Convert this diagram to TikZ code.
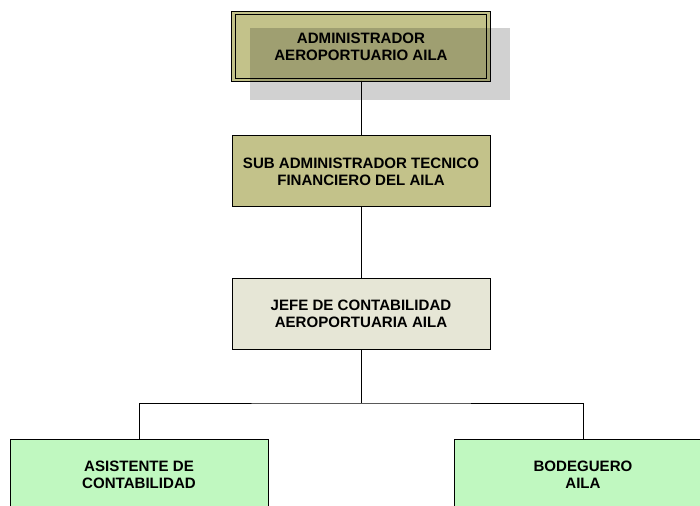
\documentclass[tikz,border=0pt]{standalone}
\usepackage{fontspec}
\setmainfont{Liberation Sans}
\usepackage{xcolor}
\definecolor{olivebox}{RGB}{195,194,138}
\definecolor{palebox}{RGB}{230,230,214}
\definecolor{greenbox}{RGB}{192,248,192}

\begin{document}
\begin{tikzpicture}[x=0.75pt, y=-0.75pt,
                    puesto/.style={draw=black, line width=0.75pt, align=center,
                      minimum width=193.5pt, minimum height=53.25pt,
                      font=\fontsize{11.3}{12.75}\selectfont\bfseries},
                    jefatura/.style={puesto, fill=olivebox, double=olivebox,
                      double distance=1.875pt,
                      minimum width=190.9pt, minimum height=50.6pt},
                    enlace/.style={draw=black, line width=0.75pt}]
  \useasboundingbox (0,0) rectangle (700,506);
  \clip (0,0) rectangle (700,506);

  \node[jefatura] (admin) at (361,46.5) {ADMINISTRADOR\\AEROPORTUARIO AILA};
  \fill[black, opacity=0.18] (250,28) rectangle (510,100);

  \node[puesto, fill=olivebox] (subadmin) at (361,171.5)
    {SUB ADMINISTRADOR TECNICO\\FINANCIERO DEL AILA};
  \node[puesto, fill=palebox] (jefe) at (361,314)
    {JEFE DE CONTABILIDAD\\AEROPORTUARIA AILA};
  \node[puesto, fill=greenbox] (asistente) at (139,474.5)
    {ASISTENTE DE\\CONTABILIDAD};
  \node[puesto, fill=greenbox] (bodeguero) at (583,474.5)
    {BODEGUERO\\AILA};

  \coordinate (rama) at (361,403);
  \draw[enlace] (admin.south) -- (subadmin.north);
  \draw[enlace] (subadmin.south) -- (jefe.north);
  \draw[enlace] (jefe.south) -- (rama);
  \draw[enlace] (asistente.north) |- (rama) -| (bodeguero.north);
\end{tikzpicture}
\end{document}
